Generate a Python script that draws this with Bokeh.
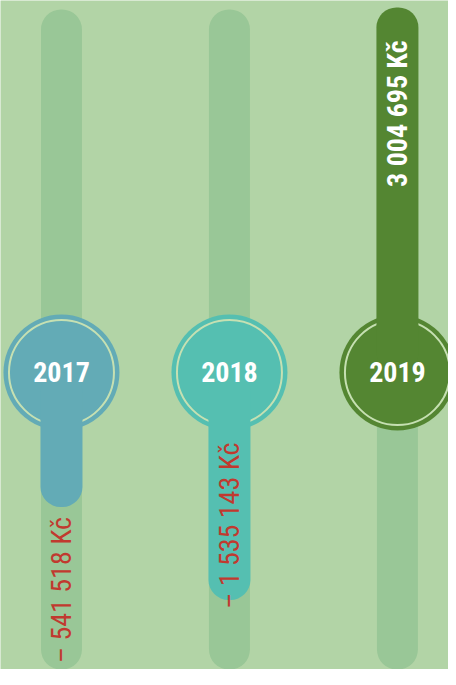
import math
from bokeh.plotting import figure
from bokeh.models import Range1d
from bokeh.embed import file_html
from bokeh.resources import INLINE
from bokeh.core.properties import value

# ---- data ----
years = ["2017", "2018", "2019"]
results = [-541518, -1535143, 3004695]          # Kč
value_labels = ["– 541 518 Kč", "– 1 535 143 Kč", "3 004 695 Kč"]

# ---- style ----
colors = ["#63abb6", "#55bfb1", "#548632"]
label_pos = ["outside", "inside_start", "inside_end"]
BG = "#b2d4a6"
TRACK = "#99c797"
RING = "#c6e0b2"
NEG = "#c1392f"
FONT = "'Roboto Condensed', 'DejaVu Sans Condensed', Roboto, sans-serif"
STEM = 895_000          # neck of the bar hidden behind / just past the circle (Kč units)
W, H = 448, 669

x_pos = list(range(len(years)))
y_start, y_end = -3_173_000, 3_974_000
track_top, track_bottom = y_end - 96_000, y_start - 60_000

p = figure(width=W, height=H, x_range=Range1d(-0.363, 2.304),
           y_range=Range1d(y_start, y_end), output_backend="svg",
           toolbar_location=None, min_border=0, x_axis_location=None,
           y_axis_location=None, background_fill_color=BG,
           border_fill_color=BG, outline_line_color=None)
p.grid.visible = False

# background tracks
p.vbar(x=x_pos, width=0.244, bottom=track_bottom, top=track_top,
       fill_color=TRACK, line_color=None, border_radius=20)

# circles + ring
p.scatter(x=x_pos, y=[0] * len(years), size=116, fill_color=colors, line_color=None)
p.scatter(x=x_pos, y=[0] * len(years), size=105, fill_color=None,
          line_color=RING, line_width=2)

# bars
ends = [v + STEM if v > 0 else v - STEM for v in results]
p.vbar(x=x_pos, width=0.25, bottom=[min(0, e) for e in ends],
       top=[max(0, e) for e in ends], fill_color=colors, line_color=None,
       border_radius=20)

# year labels
p.text(x=x_pos, y=[0] * len(years), text=years, text_color="white",
       text_font_style="bold", text_font_size="28px", text_align="center",
       text_baseline="middle", text_font=value(FONT))

# value labels
for xi, v, e, lab, pos in zip(x_pos, results, ends, value_labels, label_pos):
    if pos == "inside_end":
        y, off = e, 33
    elif pos == "outside":
        y, off = e, 10
    else:
        y, off = 0, 70
    p.text(x=[xi], y=[y], text=[lab], angle=math.pi / 2, y_offset=off,
           text_align="right", text_baseline="middle",
           text_color="white" if v > 0 else NEG,
           text_font_style="bold" if v > 0 else "normal",
           text_font_size="28px", text_font=value(FONT))

open("out.html", "w").write(file_html(p, INLINE))
